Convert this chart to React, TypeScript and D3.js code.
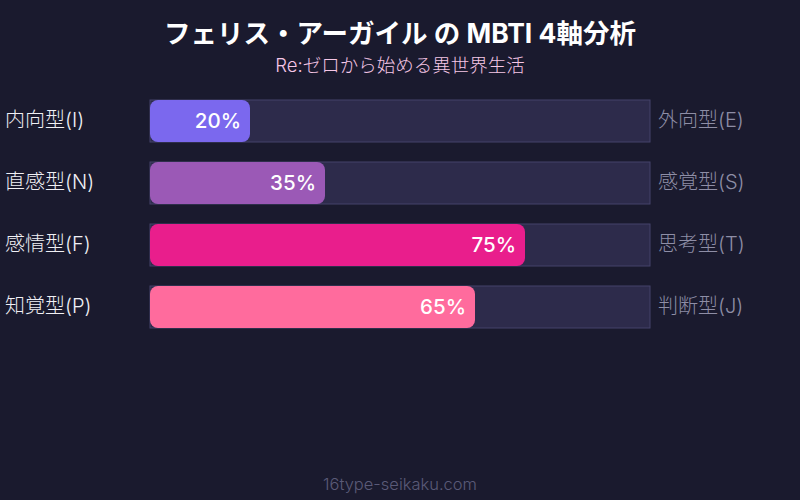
import React, { useEffect, useRef } from "react";
import * as d3 from "d3";

const leftLabels = ["内向型(I)", "直感型(N)", "感情型(F)", "知覚型(P)"];
const rightLabels = ["外向型(E)", "感覚型(S)", "思考型(T)", "判断型(J)"];
const percents = [20, 35, 75, 65];
const barColors = ["#7b68ee", "#9b59b6", "#e91e8c", "#ff6b9d"];

const FONT = "Inter, 'Noto Sans CJK JP', sans-serif";

const App: React.FC = () => {
  const svgRef = useRef<SVGSVGElement | null>(null);

  useEffect(() => {
    document.body.style.margin = "0";
    const width = 800;
    const height = 500;
    const svg = d3.select(svgRef.current);
    svg.selectAll("*").remove();
    svg.attr("width", width).attr("height", height);

    svg
      .append("rect")
      .attr("width", width)
      .attr("height", height)
      .attr("fill", "#1a1a2e");

    // タイトル
    svg
      .append("text")
      .attr("x", width / 2)
      .attr("y", 43)
      .attr("text-anchor", "middle")
      .style("font-family", FONT)
      .style("font-size", "26.5px")
      .style("font-weight", "bold")
      .style("fill", "#ffffff")
      .text("フェリス・アーガイル の MBTI 4軸分析");

    svg
      .append("text")
      .attr("x", width / 2)
      .attr("y", 72)
      .attr("text-anchor", "middle")
      .style("font-family", FONT)
      .style("font-size", "18.5px")
      .style("font-weight", "300")
      .style("fill", "#f5c6e6")
      .text("Re:ゼロから始める異世界生活");

    const x = d3.scaleLinear().domain([0, 100]).range([150, 650]);
    const y = d3
      .scaleBand<number>()
      .domain(d3.range(percents.length))
      .range([100, 328])
      .paddingInner(20 / 62)
      .paddingOuter(0);

    const rows = svg
      .selectAll(".row")
      .data(percents)
      .enter()
      .append("g")
      .attr("class", "row");

    rows
      .append("rect")
      .attr("x", x(0))
      .attr("y", (_, i) => y(i)!)
      .attr("width", x(100) - x(0))
      .attr("height", y.bandwidth())
      .attr("fill", "#2d2b4b")
      .attr("stroke", "#45436a")
      .attr("stroke-width", 1);

    rows
      .append("rect")
      .attr("x", x(0))
      .attr("y", (_, i) => y(i)!)
      .attr("width", (d) => x(d) - x(0))
      .attr("height", y.bandwidth())
      .attr("rx", 8)
      .attr("fill", (_, i) => barColors[i]);

    rows
      .append("text")
      .attr("x", (d) => x(d) - 9)
      .attr("y", (_, i) => y(i)! + y.bandwidth() / 2)
      .attr("dy", "0.33em")
      .attr("text-anchor", "end")
      .style("font-family", FONT)
      .style("font-size", "20.5px")
      .style("font-weight", "500")
      .style("fill", "#ffffff")
      .text((d) => `${d}%`);

    rows
      .append("text")
      .attr("x", 5)
      .attr("y", (_, i) => y(i)! + y.bandwidth() / 2)
      .attr("dy", "0.3em")
      .style("font-family", FONT)
      .style("font-size", "20px")
      .style("font-weight", "300")
      .style("fill", "#f0f0f5")
      .text((_, i) => leftLabels[i]);

    rows
      .append("text")
      .attr("x", 658)
      .attr("y", (_, i) => y(i)! + y.bandwidth() / 2)
      .attr("dy", "0.3em")
      .style("font-family", FONT)
      .style("font-size", "20px")
      .style("font-weight", "300")
      .style("fill", "#8e8ea6")
      .text((_, i) => rightLabels[i]);

    svg
      .append("text")
      .attr("x", width / 2)
      .attr("y", 490)
      .attr("text-anchor", "middle")
      .style("font-family", FONT)
      .style("font-size", "16.5px")
      .style("font-weight", "300")
      .style("fill", "#5a5a78")
      .text("16type-seikaku.com");
  }, []);

  return (
    <div>
      <svg ref={svgRef} style={{ display: "block" }}></svg>
    </div>
  );
};

export default App;
